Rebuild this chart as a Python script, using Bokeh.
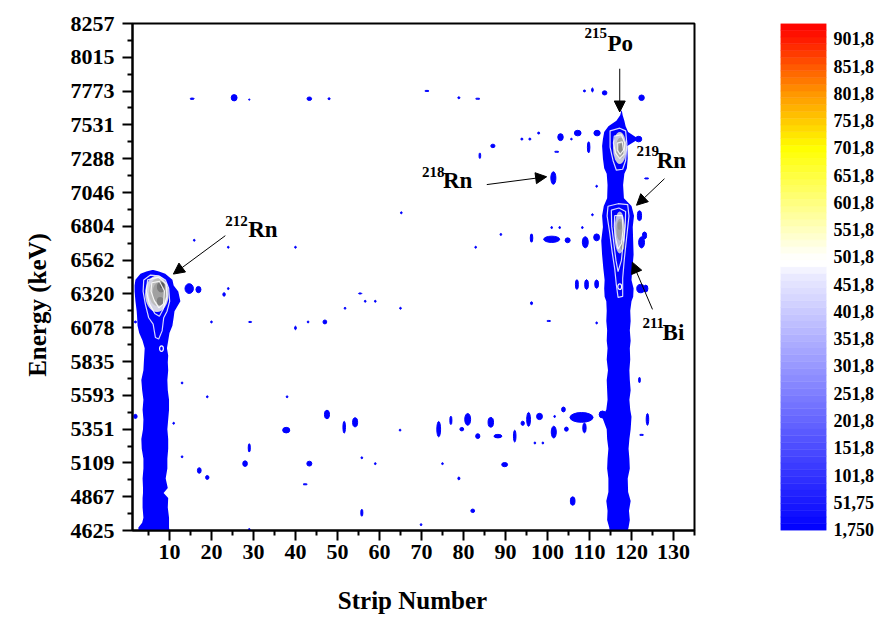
import numpy as np
from bokeh.plotting import figure
from bokeh.models import Range1d, FixedTicker, Arrow, NormalHead, ColumnDataSource
from bokeh.layouts import row, column
from bokeh.embed import file_html
from bokeh.resources import INLINE
from bokeh.core.properties import value

FONT = "Liberation Serif"
BLUE = "#0000ff"

# ---------------- axis ticks ----------------
x_ticks = [10, 20, 30, 40, 50, 60, 70, 80, 90, 100, 110, 120, 130]
x_minor = [5, 15, 25, 35, 45, 55, 65, 75, 85, 95, 105, 115, 125, 135]
y_tick_labels = ["4625", "4867", "5109", "5351", "5593", "5835", "6078", "6320",
                 "6562", "6804", "7046", "7288", "7531", "7773", "8015", "8257"]
x_title = "Strip Number"
y_title = "Energy (keV)"

# ---------------- colour scale labels ----------------
cbar_labels = ["1,750", "51,75", "101,8", "151,8", "201,8", "251,8", "301,8", "351,8",
               "401,8", "451,8", "501,8", "551,8", "601,8", "651,8", "701,8", "751,8",
               "801,8", "851,8", "901,8"]
cbar_stop_values = [0.0, 470.0, 490.0, 505.0, 701.8, 801.8, 901.8, 930.0]
cbar_stop_colors = [(0, 0, 255), (236, 236, 255), (255, 255, 255), (255, 255, 250),
                    (255, 255, 0), (255, 150, 0), (255, 25, 0), (255, 0, 0)]

# ---------------- intense stripes (strip number edges vs energy) ----------------
left_y = [4625, 4646, 4680, 4717, 4790, 4858, 4893, 4930, 4998, 5070, 5139, 5210, 5280,
          5350, 5421, 5490, 5562, 5630, 5703, 5773, 5830, 5879, 5930, 5985, 6040, 6091,
          6150, 6196, 6267, 6337, 6380, 6422, 6464, 6480, 6492]
left_xl = [2.6, 2.6, 3.5, 3.8, 3.6, 3.6, 3.7, 3.7, 3.6, 3.8, 3.8, 3.4, 3.3,
           3.7, 3.8, 3.6, 3.8, 3.5, 3.3, 3.8, 3.9, 4.0, 4.1, 3.6, 2.8, 2.4,
           2.3, 2.2, 1.9, 1.7, 1.7, 1.9, 3.1, 4.5, 5.9]
left_xr = [10.0, 9.9, 9.9, 9.9, 9.6, 9.7, 8.6, 9.6, 9.1, 9.5, 9.5, 9.7, 9.7,
           9.5, 9.7, 9.9, 9.9, 9.6, 9.5, 9.7, 9.6, 9.7, 9.4, 9.7, 10.0, 10.7,
           11.0, 11.2, 12.6, 12.1, 11.0, 10.7, 9.0, 7.5, 6.2]

right_y = [4625, 4646, 4700, 4766, 4836, 4900, 4998, 5070, 5139, 5210, 5280, 5351, 5440,
           5490, 5562, 5630, 5703, 5773, 5850, 5930, 5985, 6060, 6126, 6200, 6267, 6300,
           6358, 6420, 6500, 6600, 6700, 6800, 6880, 6950, 7006, 7100, 7180, 7220, 7290,
           7380, 7430, 7480, 7521, 7560, 7600, 7634]
right_xl = [114.8, 114.7, 114.2, 114.3, 114.0, 114.5, 114.5, 114.2, 114.3, 114.5, 114.2, 114.1, 113.0,
            114.0, 114.3, 114.2, 114.1, 114.4, 114.1, 114.3, 114.1, 114.2, 114.0, 114.1, 114.0, 113.6,
            113.5, 113.6, 113.3, 113.0, 112.8, 113.2, 113.0, 113.4, 114.2, 114.3, 114.1, 113.5, 113.2,
            113.0, 113.2, 113.5, 114.5, 116.4, 117.3, 117.6]
right_xr = [119.1, 119.3, 119.6, 119.4, 119.8, 119.2, 119.1, 119.6, 119.5, 119.3, 119.5, 119.8, 120.0,
            119.7, 119.5, 119.8, 119.6, 119.5, 119.7, 119.6, 119.8, 119.6, 119.8, 119.7, 120.0, 120.4,
            120.5, 120.0, 120.2, 120.5, 120.4, 120.3, 120.6, 120.0, 118.2, 118.0, 118.3, 118.9, 119.1,
            119.0, 121.7, 119.2, 118.6, 118.3, 117.9, 117.7]

# ---------------- scattered low-count islands: strip, energy, size in strips, size in keV ----------------
blob_x = [15.4, 25.4, 29.0, 43.3, 48.0, 71.3, 78.9, 83.4, 108.8, 110.7, 113.6, 122.4,
          87.0, 83.9, 93.9, 95.8, 97.9, 103.1, 107.2, 105.7, 109.8, 111.8, 102.2, 121.7,
          101.4, 111.7, 123.6,
          65.2, 88.9, 82.9, 96.2, 101.0, 104.8, 101.0, 102.9, 108.3, 109.0, 111.7, 110.7,
          121.9, 123.1, 122.4, 15.9, 24.0, 40.0,
          14.7, 16.9, 23.0, 24.0, 55.4, 56.6, 59.0, 51.8, 65.0, 107.0, 109.3, 111.7,
          96.2, 100.3, 122.2, 123.4, 111.7,
          20.0, 29.2, 40.0, 43.0, 47.0, 1.9,
          13.0, 19.0, 38.0, 121.9, 1.9, 11.0,
          47.5, 51.6, 54.2, 37.8, 64.9, 74.1, 77.0, 81.0, 79.6, 83.4, 86.5, 88.2, 92.2,
          94.1, 95.5, 98.1, 97.0, 98.9, 101.5, 101.7, 103.8, 104.5, 108.1, 108.8, 113.1,
          123.8, 122.4,
          29.0, 13.0, 28.0, 17.1, 19.0, 43.3, 55.8, 59.0, 42.3, 55.8, 69.9, 29.0, 75.0,
          89.8, 78.9, 82.2, 106.0]
blob_y = [7718, 7725, 7712, 7718, 7718, 7774, 7725, 7718, 7774, 7781, 7760, 7725,
          7380, 7310, 7429, 7429, 7472, 7443, 7472, 7429, 7370, 7472, 7338, 7429,
          7150, 7091, 7147,
          6901, 6746, 6654, 6720, 6711, 6704, 6795, 6795, 6795, 6690, 6725, 6887,
          6880, 6739, 6689, 6704, 6654, 6654,
          6358, 6351, 6316, 6358, 6323, 6267, 6267, 6217, 6217, 6387, 6387, 6390,
          6253, 6126, 6358, 6358, 6112,
          6119, 6119, 6076, 6119, 6119, 6119,
          5682, 5583, 5583, 5703, 5442, 5393,
          5456, 5365, 5400, 5344, 5344, 5351, 5414, 5421, 5351, 5301, 5400, 5301, 5301,
          5393, 5421, 5442, 5252, 5252, 5330, 5442, 5492, 5351, 5435, 5360, 5456,
          5421, 5310,
          5217, 5153, 5104, 5055, 5005, 5104, 5146, 5104, 4956, 4752, 4667, 4632, 5104,
          5097, 4998, 4766, 4836]
blob_w = [1.0, 1.4, 0.3, 1.1, 0.5, 1.0, 0.5, 1.0, 0.5, 0.4, 1.1, 1.3,
          1.0, 0.4, 0.5, 0.5, 0.5, 1.3, 1.6, 0.4, 0.6, 1.5, 1.0, 1.5,
          1.2, 0.4, 1.0,
          0.4, 0.4, 0.4, 0.6, 3.8, 1.2, 0.4, 0.4, 0.4, 1.4, 1.4, 0.4,
          1.0, 1.0, 1.4, 0.4, 0.4, 0.4,
          2.0, 1.2, 0.6, 0.4, 0.8, 0.4, 0.4, 0.4, 0.4, 0.7, 0.9, 0.9,
          0.5, 0.9, 1.9, 1.0, 0.4,
          0.4, 0.8, 0.4, 0.4, 0.9, 0.5,
          0.4, 0.4, 0.4, 0.4, 0.8, 0.4,
          1.2, 0.6, 1.2, 1.7, 0.4, 0.9, 0.5, 1.4, 0.9, 1.0, 1.3, 1.9, 0.6,
          0.8, 0.9, 1.4, 0.4, 0.4, 1.2, 0.4, 0.9, 0.9, 5.5, 0.8, 1.6,
          0.6, 0.9,
          0.5, 0.4, 1.1, 0.9, 0.8, 1.2, 0.4, 0.4, 1.0, 0.5, 0.4, 0.4, 0.4,
          1.4, 0.5, 0.9, 1.1]
blob_h = [10, 45, 10, 25, 14, 8, 14, 8, 14, 28, 30, 40,
          25, 40, 14, 14, 14, 50, 40, 12, 80, 40, 8, 40,
          90, 14, 8,
          14, 14, 14, 60, 45, 35, 14, 14, 14, 80, 50, 14,
          70, 50, 80, 14, 14, 14,
          70, 45, 25, 14, 8, 14, 14, 14, 14, 70, 70, 60,
          20, 8, 60, 50, 14,
          14, 8, 25, 14, 28, 14,
          14, 14, 14, 40, 30, 14,
          60, 85, 65, 40, 14, 110, 60, 85, 25, 35, 70, 25, 85,
          30, 100, 45, 14, 14, 85, 14, 35, 30, 70, 70, 50,
          85, 8,
          60, 14, 40, 40, 28, 35, 14, 14, 8, 50, 14, 14, 14,
          30, 20, 25, 60]

# ---------------- hot spots (grey shading) ----------------
hot_x = [7.0, 7.3, 7.6, 8.0, 7.8, 8.2,
         117.2, 117.4, 117.6,
         117.2, 117.3, 117.2, 117.8]
hot_y = [6320, 6330, 6330, 6370, 6267, 6380,
         7365, 7365, 7360,
         6760, 6780, 6809, 6668]
hot_w = [5.6, 4.4, 3.2, 2.0, 1.6, 1.0,
         3.2, 2.2, 1.2,
         2.6, 1.8, 1.0, 1.0]
hot_h = [260, 200, 150, 80, 60, 40,
         230, 150, 80,
         300, 160, 60, 70]
hot_color = ["#d4d4e4", "#bdbdbd", "#a0a0a0", "#7a7a7a", "#808080", "#5a5a5a",
             "#c8c8dc", "#a8a8a8", "#8a8a8a",
             "#b8b8e0", "#a0a0a8", "#909090", "#989898"]

# ---------------- white contour lines ----------------
contour_xs = [
    [3.87, 5.47, 7.44, 9.03, 9.81, 10.05, 9.43, 8.63, 8.25, 7.44, 6.65, 6.11, 5.06, 4.28, 3.73],
    [4.8, 7.4, 9.2, 9.4, 8.5, 7.6, 6.5, 5.2, 4.5],
    [5.8, 7.6, 8.8, 8.6, 7.5, 6.4, 5.6],
    [114.9, 117.2, 118.6, 118.9, 118.6, 117.9, 116.4, 115.6, 114.9],
    [115.9, 117.6, 118.4, 118.2, 117.2, 116.2, 115.7],
    [116.6, 117.8, 118.1, 117.3, 116.6],
    [114.4, 116.8, 119.1, 119.4, 118.8, 118.3, 117.9, 117.9, 116.8, 116.4, 116.0, 115.4, 114.8, 114.2],
    [115.2, 117.0, 118.6, 118.5, 118.0, 117.6, 116.8, 116.3, 115.8, 115.3],
    [116.0, 117.8, 118.0, 117.6, 116.8, 116.2, 115.9],
]
contour_ys = [
    [6420, 6455, 6450, 6420, 6360, 6267, 6196, 6149, 6055, 5997, 6008, 6103, 6149, 6243, 6337],
    [6420, 6440, 6390, 6300, 6210, 6160, 6180, 6250, 6340],
    [6400, 6410, 6340, 6250, 6220, 6270, 6340],
    [7488, 7507, 7488, 7394, 7276, 7213, 7206, 7276, 7371],
    [7450, 7460, 7400, 7320, 7290, 7330, 7400],
    [7400, 7410, 7350, 7320, 7350],
    [6948, 6966, 6959, 6878, 6713, 6572, 6431, 6302, 6295, 6384, 6501, 6619, 6760, 6878],
    [6920, 6935, 6910, 6800, 6680, 6560, 6480, 6560, 6680, 6800],
    [6880, 6880, 6780, 6680, 6640, 6720, 6800],
]
ring_x = [8.1, 117.2]
ring_y = [5928, 6372]

# ---------------- nuclide annotations (text centres in data units) ----------------
ann_mass = ["212", "218", "215", "219", "211"]
ann_elem = ["Rn", "Rn", "Po", "Rn", "Bi"]
ann_mass_x = [23.3, 70.1, 108.8, 121.2, 122.6]
ann_mass_y = [6842, 7194, 8186, 7345, 6110]
ann_elem_x = [28.75, 75.1, 114.3, 126.0, 127.4]
ann_elem_y = [6782, 7131, 8112, 7275, 6043]
arrow_x0 = [23.3, 85.55, 117.2, 127.85, 125.0]
arrow_y0 = [6737, 7103, 7933, 7145, 6209]
arrow_x1 = [10.93, 99.8, 117.2, 121.2, 120.2]
arrow_y1 = [6462, 7159, 7623, 6955, 6547]

TOP_H = 580   # height of the upper row

# =====================================================================
# y-axis title panel
lt = figure(width=60, height=TOP_H, x_range=Range1d(0, 60), y_range=Range1d(0, TOP_H),
            output_backend="svg", toolbar_location=None, x_axis_location=None, y_axis_location=None,
            min_border=0)
lt.grid.visible = False
lt.outline_line_color = None
lt.text(x=[37], y=[TOP_H - 322], text=[y_title], angle=np.pi / 2, text_font=value(FONT),
        text_font_style="bold", text_font_size="25px", text_color="black",
        text_align="center", text_baseline="middle")

# main plot
p = figure(width=700, height=TOP_H, x_range=Range1d(1.2, 135), y_range=Range1d(4625, 8257),
           output_backend="svg", toolbar_location=None,
           min_border_left=72, min_border_right=66, min_border_top=17,
           min_border_bottom=TOP_H - 533)
p.xgrid.visible = False
p.ygrid.visible = False
p.outline_line_color = "black"
p.outline_line_width = 2
p.background_fill_color = "white"
p.border_fill_color = "white"

y_vals = [int(s) for s in y_tick_labels]
y_minor = [(a + b) / 2 for a, b in zip(y_vals[:-1], y_vals[1:])]
p.xaxis.ticker = FixedTicker(ticks=x_ticks, minor_ticks=x_minor)
p.yaxis.ticker = FixedTicker(ticks=y_vals, minor_ticks=y_minor)

for ax in (p.xaxis[0], p.yaxis[0]):
    ax.axis_line_width = 2
    ax.axis_line_color = "black"
    ax.major_tick_line_width = 2
    ax.minor_tick_line_width = 2
    ax.major_tick_line_color = "black"
    ax.minor_tick_line_color = "black"
    ax.major_tick_out = 10
    ax.major_tick_in = 0
    ax.minor_tick_out = 5
    ax.minor_tick_in = 0
    ax.major_label_text_font = FONT
    ax.major_label_text_font_style = "bold"
    ax.major_label_text_font_size = "22px"
    ax.major_label_text_color = "black"
p.xaxis.major_label_standoff = 4
p.yaxis.major_label_standoff = 8

# stripes
p.harea(y=left_y, x1=left_xl, x2=left_xr, fill_color=BLUE)
p.harea(y=right_y, x1=right_xl, x2=right_xr, fill_color=BLUE)
# islands
p.ellipse(x=blob_x, y=blob_y, width=blob_w, height=blob_h, fill_color=BLUE, line_color=BLUE)
# hot spots
p.ellipse(x=hot_x, y=hot_y, width=hot_w, height=hot_h, fill_color=hot_color, line_color=None)
p.patches(xs=contour_xs, ys=contour_ys, fill_alpha=0, line_color="white", line_width=1.2, line_alpha=0.85)
p.ellipse(x=ring_x, y=ring_y, width=[0.9, 0.9], height=[40, 40], fill_alpha=0,
          line_color="white", line_width=1.2)

# annotations
src_m = ColumnDataSource(dict(x=ann_mass_x, y=ann_mass_y, t=ann_mass))
src_e = ColumnDataSource(dict(x=ann_elem_x, y=ann_elem_y, t=ann_elem))
p.text(x="x", y="y", text="t", source=src_m, text_font=value(FONT), text_font_style="bold",
       text_font_size="15px", text_color="black", text_align="left", text_baseline="middle")
p.text(x="x", y="y", text="t", source=src_e, text_font=value(FONT), text_font_style="bold",
       text_font_size="23px", text_color="black", text_align="left", text_baseline="middle")
src_a = ColumnDataSource(dict(x0=arrow_x0, y0=arrow_y0, x1=arrow_x1, y1=arrow_y1))
p.add_layout(Arrow(end=NormalHead(size=11, fill_color="black", line_color="black"),
                   x_start="x0", y_start="y0", x_end="x1", y_end="y1", source=src_a,
                   line_color="black", line_width=1))

# colour scale
cb = figure(width=134, height=TOP_H, x_range=Range1d(0, 1), y_range=Range1d(0, 930),
            output_backend="svg", toolbar_location=None, x_axis_location=None,
            y_axis_location="right",
            min_border_left=20, min_border_right=68, min_border_top=23,
            min_border_bottom=TOP_H - 530)
cb.xgrid.visible = False
cb.ygrid.visible = False
cb.outline_line_color = None
cb.border_fill_color = "white"

edges = np.linspace(0, 930, 76)
mids = (edges[:-1] + edges[1:]) / 2
sv = np.array(cbar_stop_values)
sc = np.array(cbar_stop_colors, dtype=float)
band_colors = []
for m in mids:
    r = int(round(np.interp(m, sv, sc[:, 0])))
    g = int(round(np.interp(m, sv, sc[:, 1])))
    b = int(round(np.interp(m, sv, sc[:, 2])))
    band_colors.append("#%02x%02x%02x" % (r, g, b))
cb.quad(left=0, right=1, bottom=edges[:-1], top=edges[1:], fill_color=band_colors,
        line_color=band_colors, line_width=0.5)

cbar_vals = [float(s.replace(",", ".")) for s in cbar_labels]
cb.yaxis.ticker = FixedTicker(ticks=cbar_vals, minor_ticks=[])
cb.yaxis.major_label_overrides = {v: s for v, s in zip(cbar_vals, cbar_labels)}
cb.yaxis.axis_line_color = None
cb.yaxis.major_tick_line_color = None
cb.yaxis.minor_tick_line_color = None
cb.yaxis.major_tick_out = 0
cb.yaxis.major_label_standoff = 7
cb.yaxis.major_label_text_font = FONT
cb.yaxis.major_label_text_font_style = "bold"
cb.yaxis.major_label_text_font_size = "18px"
cb.yaxis.major_label_text_color = "black"

# x-axis title panel
BOT_H = 617 - TOP_H
bt = figure(width=894, height=BOT_H, x_range=Range1d(0, 894), y_range=Range1d(0, BOT_H),
            output_backend="svg", toolbar_location=None, x_axis_location=None, y_axis_location=None,
            min_border=0)
bt.grid.visible = False
bt.outline_line_color = None
bt.text(x=[412], y=[BOT_H - (600 - TOP_H)], text=[x_title], text_font=value(FONT),
        text_font_style="bold", text_font_size="25px", text_color="black",
        text_align="center", text_baseline="middle")

layout = column(row(lt, p, cb), bt)
open("out.html", "w").write(file_html(layout, INLINE))
